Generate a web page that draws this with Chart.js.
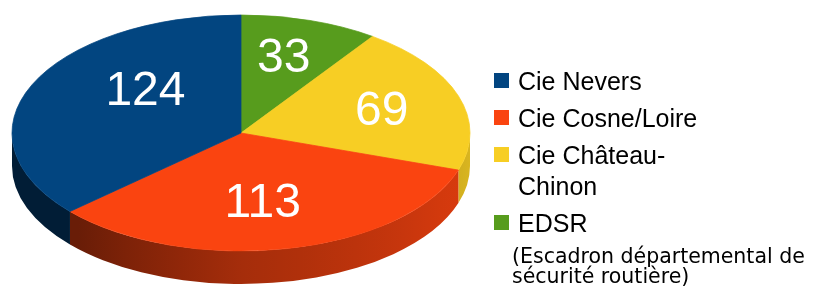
<!DOCTYPE html>
<html>
<head>
<meta charset="utf-8">
<script src="https://cdn.jsdelivr.net/npm/chart.js@4.4.1/dist/chart.umd.min.js"></script>
<style>
body{margin:0;background:#fff;}
#wrap{position:relative;width:821px;height:287px;overflow:hidden;}
#pie{position:absolute;left:0;top:0;}
#legend{position:absolute;left:494px;top:66px;}
.item{position:relative;padding-left:24px;margin-bottom:6px;}
.key{position:absolute;left:0;top:7px;width:15px;height:15px;}
.txt{font-family:"Liberation Sans",Arial,sans-serif;font-size:25px;line-height:31px;width:195px;color:#000;}
.note{font-family:"DejaVu Sans",sans-serif;font-size:20.5px;line-height:20px;margin-left:-6px;margin-top:7px;width:310px;color:#000;}
</style>
</head>
<body>
<div id="wrap">
  <canvas id="pie" width="821" height="287"></canvas>
  <div id="legend"></div>
</div>
<script>
// data, in legend order
const categories = ['Cie Nevers', 'Cie Cosne/Loire', 'Cie Château-Chinon', 'EDSR'];
const values = [124, 113, 69, 33];
const notes = ['', '', '', '(Escadron départemental de sécurité routière)'];
const colors = ['#024580', '#fa4410', '#f7ce24', '#579c1d'];

// html legend
const legendDiv = document.getElementById('legend');
for (let i = 0; i < categories.length; i++) {
  let item = document.createElement('div');
  item.className = 'item';
  item.innerHTML = '<div class="key" style="background:' + colors[i] + '"></div>' +
    '<div class="txt">' + categories[i] + '</div>' +
    (notes[i] ? '<div class="note">' + notes[i] + '</div>' : '');
  legendDiv.appendChild(item);
}

function shade(hex, f) {
  let n = parseInt(hex.slice(1), 16);
  let r = Math.round(((n >> 16) & 255) * f);
  let g = Math.round(((n >> 8) & 255) * f);
  let b = Math.round((n & 255) * f);
  return 'rgb(' + r + ',' + g + ',' + b + ')';
}

// light on the side wall, by angle from top (clockwise)
const sideLight = [[90, 0.88], [120, 0.84], [180, 0.66], [225, 0.42], [270, 0.42]];
function lightAt(deg) {
  for (let k = 1; k < sideLight.length; k++) {
    if (deg <= sideLight[k][0]) {
      let a = sideLight[k - 1], b = sideLight[k];
      return a[1] + (b[1] - a[1]) * (deg - a[0]) / (b[0] - a[0]);
    }
  }
  return sideLight[sideLight.length - 1][1];
}

// flattens the pie into an ellipse and draws the side wall under it
const pie3d = {
  id: 'pie3d',
  beforeDatasetsDraw(chart, args, opts) {
    const ctx = chart.ctx;
    const arcs = chart.getDatasetMeta(0).data;
    const cols = chart.data.datasets[0].backgroundColor;
    ctx.save();
    arcs.forEach((arc, i) => {
      let a1 = Math.max(arc.startAngle, 0);
      let a2 = Math.min(arc.endAngle, Math.PI);
      if (a2 <= a1) return;
      let R = arc.outerRadius, rY = R * opts.tilt, cx = arc.x, cy = opts.cy;
      ctx.beginPath();
      ctx.ellipse(cx, cy, R, rY, 0, a1, a2);
      ctx.ellipse(cx, cy + opts.depth, R, rY, 0, a2, a1, true);
      ctx.closePath();
      let g = ctx.createLinearGradient(cx - R, 0, cx + R, 0);
      for (let d = 90; d <= 270; d += 15) {
        let t = d * Math.PI / 180;
        g.addColorStop((1 + Math.sin(t)) / 2, shade(cols[i], lightAt(d)));
      }
      ctx.fillStyle = g;
      ctx.fill();
    });
    ctx.restore();
    ctx.save();
    ctx.translate(0, opts.cy);
    ctx.scale(1, opts.tilt);
    ctx.translate(0, -arcs[0].y);
  },
  afterDatasetsDraw(chart, args, opts) {
    const ctx = chart.ctx;
    ctx.restore();
    const arcs = chart.getDatasetMeta(0).data;
    const vals = chart.data.datasets[0].data;
    ctx.save();
    ctx.fillStyle = '#fff';
    ctx.font = '48px "Liberation Sans", Arial, sans-serif';
    ctx.textAlign = 'center';
    ctx.textBaseline = 'alphabetic';
    arcs.forEach((arc, i) => {
      let mid = (arc.startAngle + arc.endAngle) / 2;
      let nudge = opts.labelNudge[i] || [0, 0];
      let x = arc.x + Math.cos(mid) * arc.outerRadius * opts.labelX + nudge[0];
      let y = opts.cy + Math.sin(mid) * arc.outerRadius * opts.tilt * opts.labelY + nudge[1];
      ctx.fillText(vals[i], x, y + 17);
    });
    ctx.restore();
  }
};

// chart goes clockwise from the top, the reference goes the other way
const pieLabels = categories.slice().reverse();
const pieValues = values.slice().reverse();
const pieColors = colors.slice().reverse();

try {
  new Chart(document.getElementById('pie'), {
    type: 'pie',
    data: {
      labels: pieLabels,
      datasets: [{
        data: pieValues,
        backgroundColor: pieColors,
        borderColor: pieColors,
        borderWidth: 1,
        radius: 229,
        clip: false
      }]
    },
    options: {
      responsive: false,
      animation: false,
      events: [],
      radius: 229,
      layout: { padding: { left: 12, right: 351, top: 0, bottom: 0 } },
      plugins: {
        legend: { display: false },
        tooltip: { enabled: false },
        pie3d: {
          cy: 133, tilt: 118 / 229, depth: 33,
          labelX: 0.62, labelY: 0.68,
          // small hand nudges so the numbers sit like the original
          labelNudge: [[0, -1], [6, 0], [-7, -12], [34, -12]]
        }
      }
    },
    plugins: [pie3d]
  });
} catch (error) {
  console.log(error);
}
</script>
</body>
</html>
